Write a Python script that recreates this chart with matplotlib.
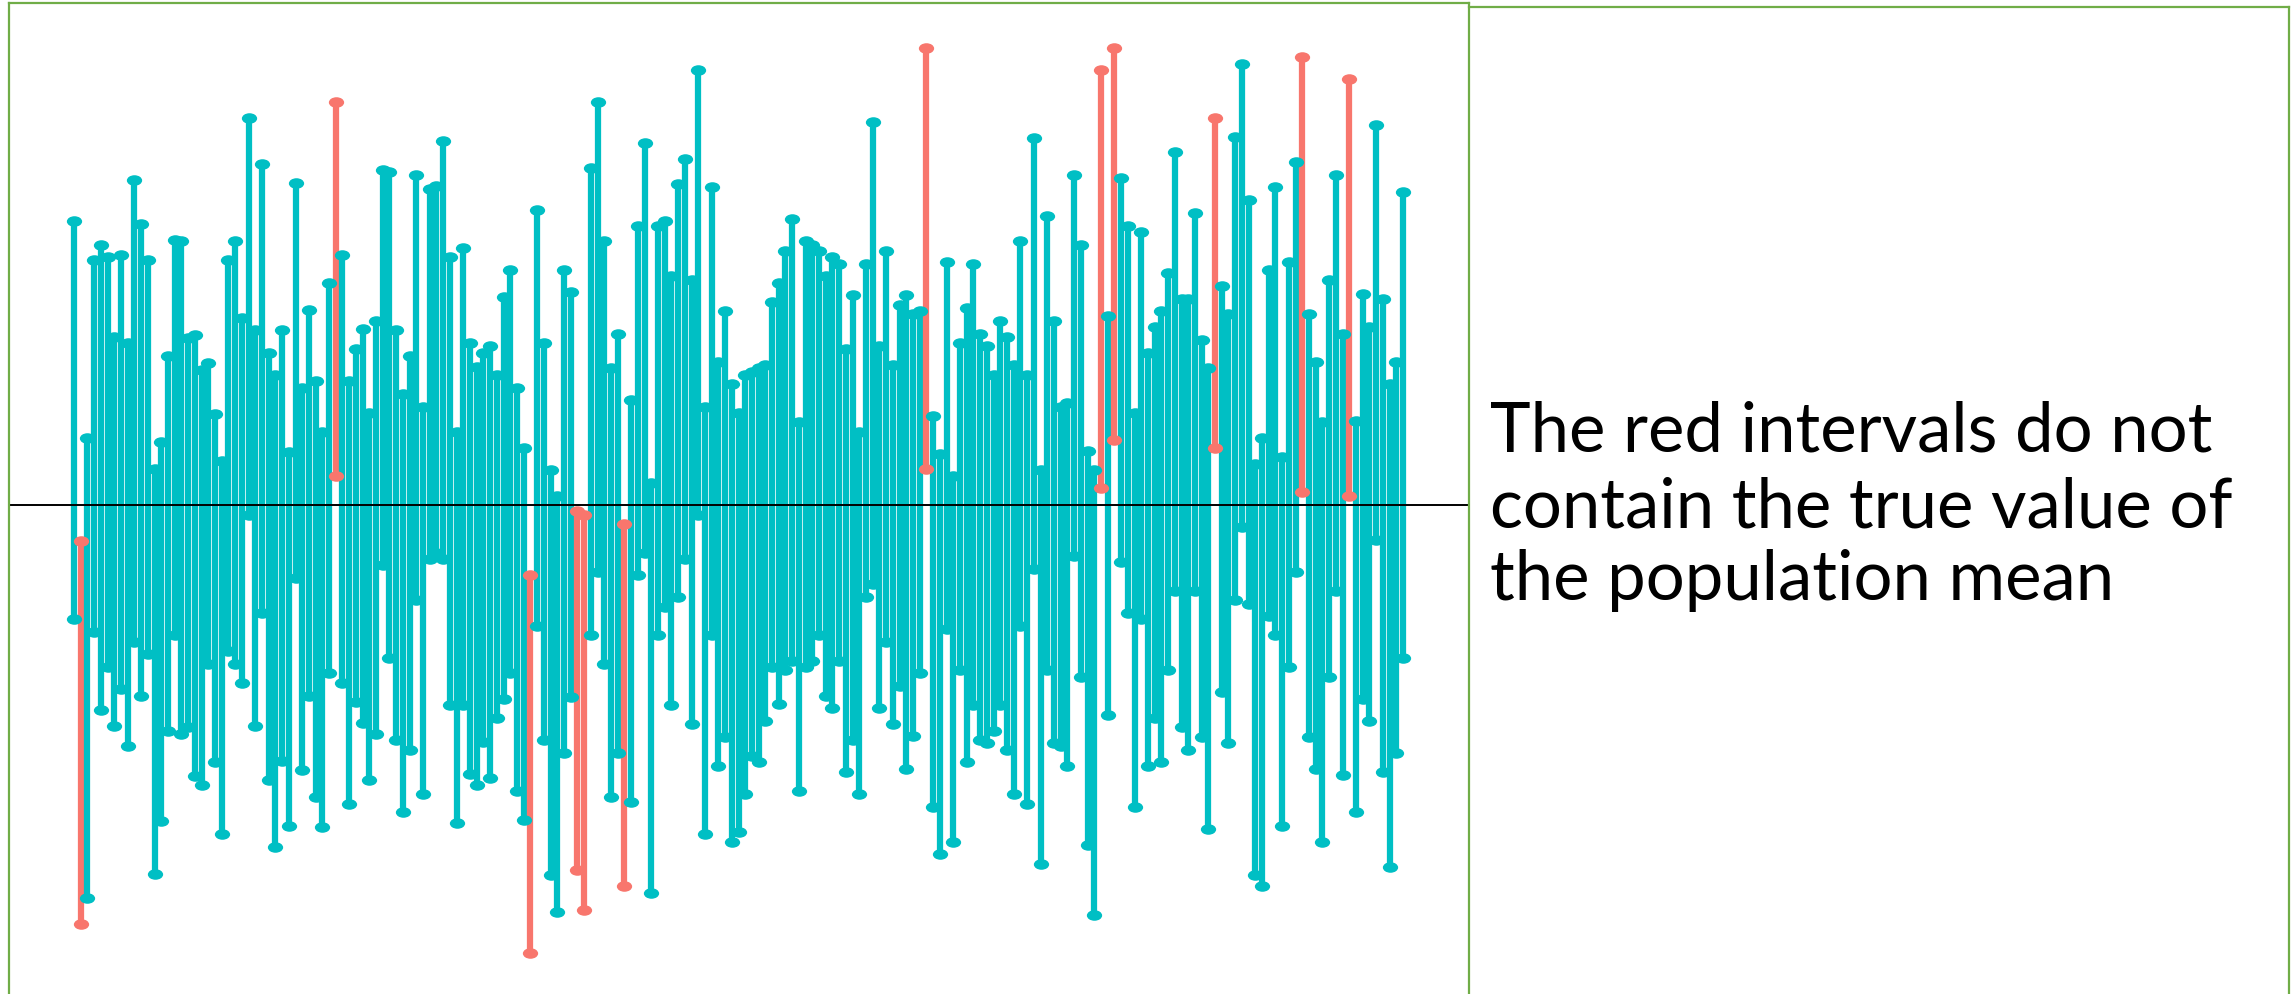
"""Simulated confidence intervals around a population mean, with a side note."""

import matplotlib
matplotlib.use("Agg")
import matplotlib.pyplot as plt
import numpy as np
from matplotlib.lines import Line2D
from matplotlib.path import Path
from matplotlib.transforms import Affine2D

TRUE_MEAN = 100.0

# upper / lower interval limits for samples 1..199
UPPER = [
    144.7, 94.3, 110.5, 138.5, 141.0, 139.0, 126.5, 139.3, 125.5, 151.2,
    144.3, 138.5, 105.7, 110.0, 123.5, 141.7, 141.5, 126.3, 126.8, 121.3,
    122.3, 114.3, 107.0, 138.5, 141.5, 129.5, 161.0, 127.5, 153.7, 124.0,
    120.5, 127.5, 108.3, 150.7, 118.5, 130.7, 119.5, 111.5, 135.0, 163.5,
    139.3, 119.5, 124.5, 127.7, 114.5, 129.0, 152.7, 152.5, 127.5, 117.5,
    123.5, 152.0, 115.5, 149.7, 150.3, 157.3, 139.0, 111.5, 140.5, 125.5,
    121.7, 124.0, 125.0, 120.5, 132.7, 137.0, 118.5, 109.0, 89.0, 146.5,
    125.5, 105.5, 101.5, 137.0, 133.5, 99.0, 98.5, 153.0, 163.5, 141.5,
    121.5, 127.0, 97.0, 116.5, 144.0, 157.0, 103.5, 144.0, 144.7, 136.0,
    150.5, 154.5, 135.5, 168.5, 115.5, 150.0, 122.5, 130.5, 119.0, 114.5,
    120.5, 121.0, 121.5, 122.0, 132.0, 135.0, 140.0, 145.0, 113.0, 141.5,
    141.0, 140.0, 136.0, 139.0, 138.0, 124.5, 133.0, 111.5, 138.0, 160.3,
    125.0, 140.0, 122.0, 131.5, 133.0, 130.0, 130.5, 172.0, 114.0, 108.0,
    138.3, 104.5, 125.5, 131.0, 138.0, 127.0, 125.0, 120.5, 129.0, 126.5,
    122.0, 141.5, 120.5, 157.7, 105.5, 145.5, 129.0, 115.5, 116.0, 152.0,
    141.0, 108.5, 105.5, 168.5, 129.8, 172.0, 151.5, 144.0, 114.5, 143.0,
    124.0, 128.0, 130.5, 136.5, 155.5, 132.5, 132.5, 146.0, 126.0, 121.5,
    161.0, 134.5, 130.0, 158.0, 169.5, 148.0, 106.5, 110.5, 137.0, 150.0,
    107.5, 138.3, 154.0, 170.5, 130.0, 122.5, 113.0, 135.5, 152.0, 127.0,
    167.0, 113.3, 133.3, 128.0, 159.8, 132.5, 119.0, 122.5, 149.2,
]
LOWER = [
    82.0, 34.0, 38.2, 80.0, 67.7, 74.5, 65.2, 71.0, 62.0, 78.5,
    70.0, 76.5, 42.0, 50.2, 64.5, 79.5, 64.0, 65.0, 57.3, 56.0,
    75.0, 59.5, 48.2, 77.0, 75.0, 72.0, 98.5, 65.2, 83.0, 56.7,
    46.2, 59.7, 49.5, 88.5, 58.3, 70.0, 54.0, 49.3, 73.5, 104.5,
    72.0, 53.0, 69.0, 65.7, 56.7, 64.0, 90.5, 76.0, 63.0, 51.7,
    61.5, 85.0, 54.5, 91.5, 92.5, 91.5, 68.5, 50.0, 68.5, 57.7,
    56.0, 62.7, 57.0, 66.5, 69.5, 73.5, 55.0, 50.5, 29.5, 81.0,
    63.0, 41.7, 36.0, 61.0, 69.8, 42.5, 36.3, 79.5, 89.5, 75.0,
    54.0, 61.0, 40.0, 53.3, 89.0, 92.5, 39.0, 79.5, 84.0, 68.5,
    85.5, 91.5, 65.5, 98.5, 48.2, 79.5, 59.0, 63.5, 47.0, 48.5,
    54.5, 60.5, 59.5, 66.0, 74.5, 68.7, 74.0, 75.5, 55.0, 74.5,
    75.5, 79.5, 70.0, 68.0, 75.5, 58.0, 63.0, 54.5, 85.5, 87.5,
    68.0, 78.5, 65.5, 71.5, 58.5, 63.7, 73.5, 105.7, 52.5, 45.0,
    80.5, 47.0, 74.0, 59.5, 68.5, 63.0, 62.5, 64.5, 68.5, 61.5,
    54.5, 81.0, 53.0, 90.0, 43.5, 74.0, 62.5, 62.0, 59.0, 92.0,
    73.0, 46.5, 35.5, 102.7, 67.0, 110.3, 91.0, 83.0, 52.5, 82.0,
    59.0, 66.5, 59.5, 74.0, 86.5, 65.0, 61.5, 86.5, 63.5, 49.0,
    109.0, 70.5, 62.5, 85.0, 96.5, 84.5, 41.7, 40.0, 82.5, 79.5,
    49.5, 74.5, 89.5, 102.0, 63.5, 58.5, 47.0, 73.0, 86.5, 57.5,
    101.5, 51.7, 69.5, 66.0, 94.5, 58.0, 43.0, 61.0, 76.0,
]
NOTE_LINES = ["The red intervals do not", "contain the true value of", "the population mean"]

TEAL, RED, GREEN = "#00BFC4", "#F8766D", "#70AD47"
W, H = 2295, 994          # output size in pixels
PANEL_LEFT, PANEL_RIGHT = 9, 1469   # pixel x of the plot box edges
FIRST_X, LAST_X = 74, 1403          # pixel x of the first and last interval


def main() -> None:
    fig = plt.figure(figsize=(W / 100, H / 100), dpi=100)
    ax = fig.add_axes([PANEL_LEFT / W, 0, (PANEL_RIGHT - PANEL_LEFT) / W, 1])
    ax.set_axis_off()

    upper, lower = np.asarray(UPPER), np.asarray(LOWER)
    sample = np.arange(1, len(upper) + 1)
    miss = (lower > TRUE_MEAN) | (upper < TRUE_MEAN)

    ax.vlines(sample, lower, upper, colors=np.where(miss, RED, TEAL),
              linewidth=4.5, capstyle="butt")
    cap = Path.unit_circle().transformed(Affine2D().scale(1.45, 1.0))
    for flag, colour in ((False, TEAL), (True, RED)):
        m = miss == flag
        for ends in (upper, lower):
            ax.plot(sample[m], ends[m], ls="none", marker=cap, ms=11,
                    color=colour, mec="none")
    ax.axhline(TRUE_MEAN, color="black", lw=1.4)

    pitch = (LAST_X - FIRST_X) / (len(upper) - 1)
    ax.set_xlim(1 - (FIRST_X - PANEL_LEFT) / pitch, 1 + (PANEL_RIGHT - FIRST_X) / pitch)
    ax.set_ylim(23.04, 179.5)

    # green frames (left plot box, right note box)
    def seg(x0, y0, x1, y1):
        fig.add_artist(Line2D([x0 / W, x1 / W], [1 - y0 / H, 1 - y1 / H],
                              transform=fig.transFigure, color=GREEN, lw=1.6))
    seg(PANEL_LEFT, 3, PANEL_RIGHT, 3)
    seg(PANEL_LEFT, 3, PANEL_LEFT, H)
    seg(PANEL_RIGHT, 3, PANEL_RIGHT, H)
    seg(PANEL_RIGHT, 7, 2289, 7)
    seg(2289, 7, 2289, H)

    texts = [fig.text(1490 / W, 1 - base / H, line, fontsize=50, family="Lato",
                      ha="left", va="baseline")
             for line, base in zip(NOTE_LINES, (451, 527, 600))]
    renderer = fig.canvas.get_renderer()
    widest = max(t.get_window_extent(renderer).width for t in texts)
    for t in texts:
        t.set_fontsize(50 * 742 / widest)

    fig.savefig("out.png", dpi=100)
    plt.close(fig)


if __name__ == "__main__":
    main()
